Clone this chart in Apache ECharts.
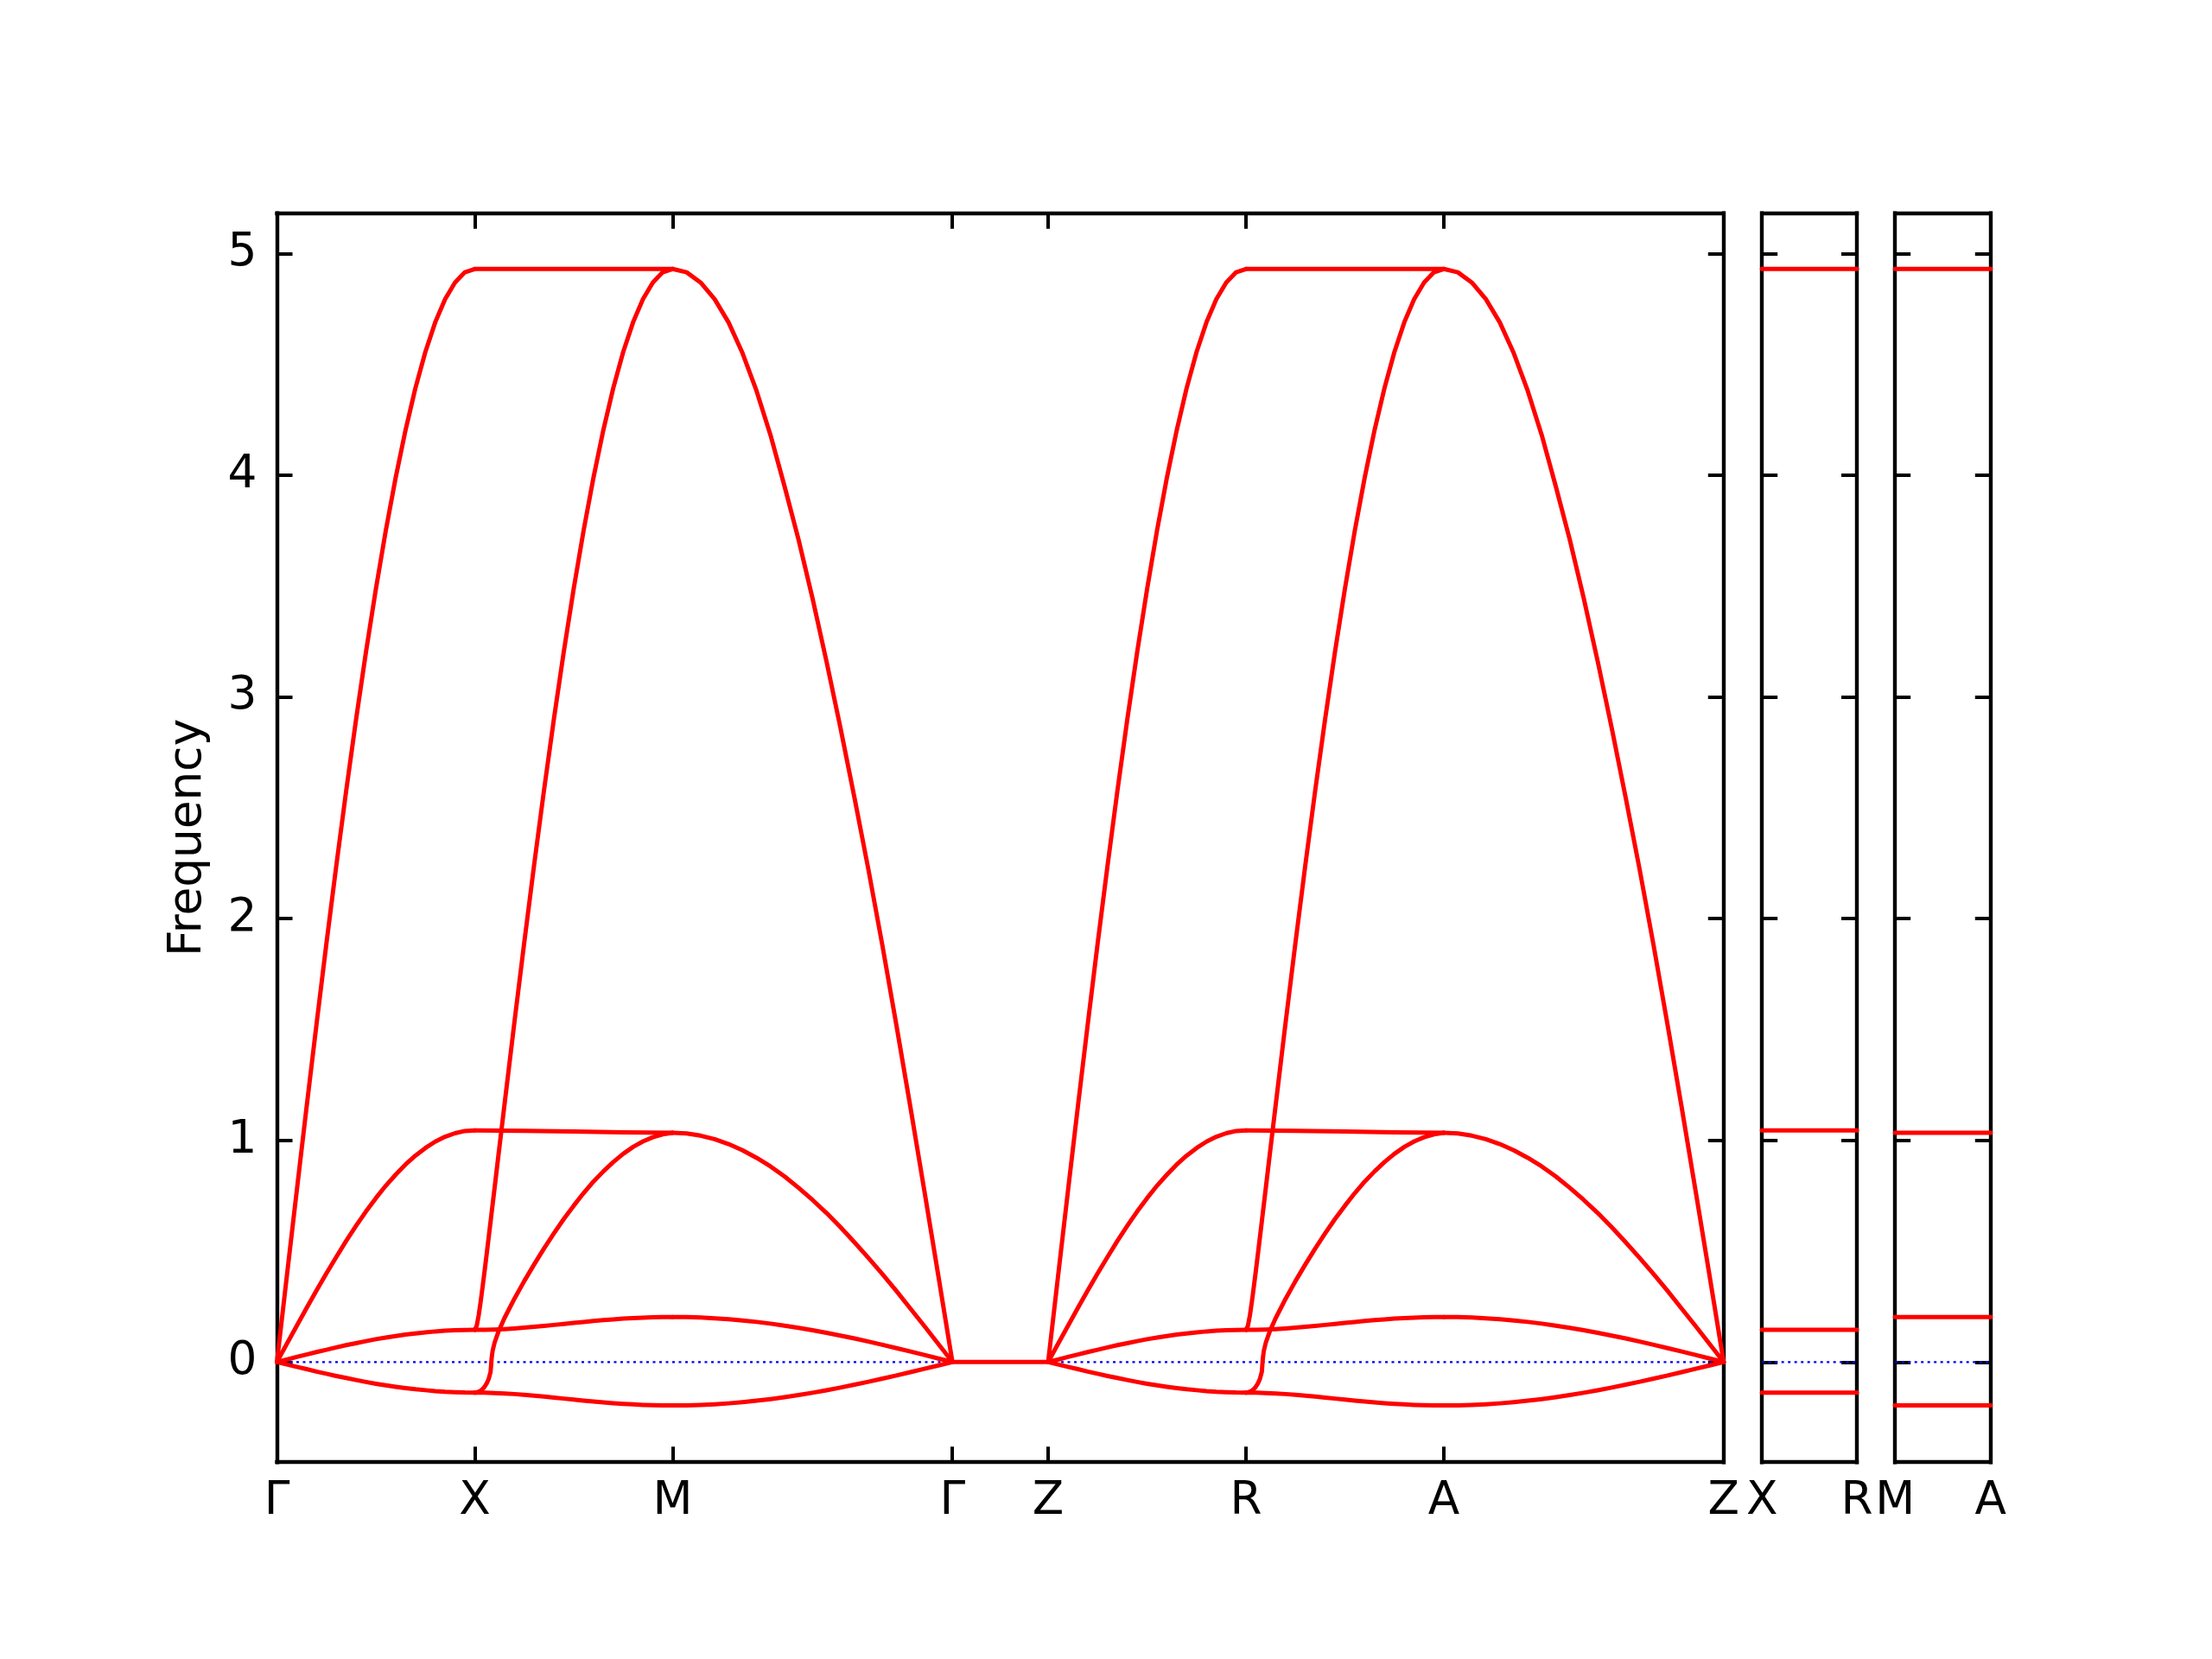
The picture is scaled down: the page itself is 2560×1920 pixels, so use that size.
<!DOCTYPE html>
<html><head><meta charset="utf-8">
<script src="https://cdn.jsdelivr.net/npm/echarts@6/dist/echarts.min.js"></script>
<style>html,body{margin:0;padding:0;background:#fff}#c{width:2560px;height:1920px}</style>
</head><body><div id="c"></div>
<script>
// ---------- k-path ----------
const kLabels = ['Γ','X','M','Γ','Z','R','A','Z'];
const segLengths = [0.5, 0.5, 0.70711, 0.242, 0.5, 0.5, 0.70711];
const panelXRLabels = ['X','R'];
const panelMALabels = ['M','A'];
const panelWidth = 0.242;
const yTicks = [0,1,2,3,4,5];
const yMin = -0.4517, yMax = 5.1816;

// ---------- sample fractions along a segment ----------
const tEdge = [0,1];
const tQuarter = [0,0.25,0.5,0.75,1];
const tGrid = [0,0.05,0.1,0.15,0.2,0.25,0.3,0.35,0.4,0.45,0.5,0.55,0.6,0.65,0.7,0.75,0.8,0.85,0.9,0.95,1];
const tSteep = [0,0.01,0.02,0.03,0.04,0.05,0.06,0.07,0.08,0.085,0.09,0.1,0.12,0.15,0.2,0.25,0.3,0.35,0.4,0.45,0.5,0.55,0.6,0.65,0.7,0.75,0.8,0.85,0.9,0.95,1];

// ---------- Γ–X (same along Z–R) ----------
const gxTop    = [0,0.387,0.771,1.151,1.523,1.887,2.238,2.576,2.898,3.202,3.486,3.749,3.988,4.203,4.393,4.555,4.689,4.794,4.869,4.915,4.93];
const gxMid    = [0,0.082,0.163,0.244,0.323,0.400,0.474,0.546,0.614,0.679,0.739,0.795,0.845,0.891,0.931,0.965,0.994,1.016,1.032,1.042,1.045];
const gxLowPos = [0,0.011,0.023,0.034,0.045,0.055,0.066,0.076,0.085,0.094,0.103,0.110,0.117,0.124,0.129,0.134,0.138,0.141,0.143,0.1446,0.145];
const gxLowNeg = [0,-0.011,-0.022,-0.032,-0.043,-0.053,-0.063,-0.072,-0.081,-0.090,-0.098,-0.105,-0.112,-0.118,-0.123,-0.127,-0.131,-0.134,-0.136,-0.1376,-0.138];

// ---------- X–M (same along R–A) ----------
const xmTopFlat = [4.93,4.93];
const xmMidFlat = [1.045,1.043,1.040,1.036,1.034];
const xmRiseTop = [0.145,0.164,0.212,0.274,0.342,0.413,0.486,0.560,0.634,0.672,0.709,0.784,0.935,1.159,1.530,1.891,2.242,2.579,2.900,3.204,3.488,3.750,3.989,4.204,4.393,4.555,4.689,4.794,4.869,4.915,4.93];
const xmRiseMid = [-0.138,-0.137,-0.134,-0.129,-0.1215,-0.111,-0.097,-0.077,-0.044,0.015,0.05,0.087,0.138,0.198,0.285,0.365,0.44,0.512,0.58,0.645,0.705,0.762,0.814,0.86,0.902,0.939,0.97,0.995,1.014,1.027,1.034];
const xmLowPos = [0.145,0.1454,0.1467,0.1487,0.1515,0.1549,0.1587,0.1629,0.1673,0.1719,0.1764,0.1808,0.1850,0.1889,0.1925,0.1956,0.1982,0.2003,0.2018,0.2027,0.203];
const xmLowNeg = [-0.138,-0.1384,-0.1397,-0.1418,-0.1445,-0.1479,-0.1518,-0.156,-0.1604,-0.165,-0.1695,-0.1739,-0.1781,-0.182,-0.1855,-0.1886,-0.1912,-0.1933,-0.1948,-0.1957,-0.196];

// ---------- M–Γ (same along A–Z) ----------
const mgTop    = [4.93,4.915,4.869,4.794,4.689,4.55,4.38,4.18,3.95,3.71,3.445,3.16,2.86,2.545,2.22,1.877,1.518,1.149,0.77,0.387,0];
const mgMid    = [1.034,1.031,1.021,1.005,0.983,0.955,0.921,0.882,0.837,0.786,0.731,0.672,0.608,0.540,0.469,0.396,0.320,0.241,0.162,0.081,0];
const mgLowPos = [0.203,0.2024,0.2005,0.1974,0.1931,0.1875,0.1809,0.1731,0.1642,0.1544,0.1435,0.1318,0.1193,0.1061,0.0922,0.0777,0.0627,0.0474,0.0318,0.0159,0];
const mgLowNeg = [-0.196,-0.1954,-0.1936,-0.1906,-0.1864,-0.1811,-0.1746,-0.1671,-0.1586,-0.149,-0.1386,-0.1273,-0.1152,-0.1024,-0.089,-0.075,-0.0606,-0.0458,-0.0307,-0.0154,0];

// ---------- Γ–Z ----------
const gzFlat = [0,0];

// ---------- side panels (X–R and M–A) ----------
const xrLevels = [4.93,1.045,0.145,-0.138];
const maLevels = [4.93,1.034,0.203,-0.196];

// ---------- assemble ----------
const segGX = [[tGrid,gxTop],[tGrid,gxMid],[tGrid,gxLowPos],[tGrid,gxLowNeg]];
const segXM = [[tEdge,xmTopFlat],[tQuarter,xmMidFlat],[tSteep,xmRiseTop],[tSteep,xmRiseMid],[tGrid,xmLowPos],[tGrid,xmLowNeg]];
const segMG = [[tGrid,mgTop],[tGrid,mgMid],[tGrid,mgLowPos],[tGrid,mgLowNeg]];
const segGZ = [[tEdge,gzFlat]];
const path = [segGX, segXM, segMG, segGZ, segGX, segXM, segMG];

const kPos = [0];
segLengths.forEach((L,i)=>kPos.push(kPos[i]+L));
const xMaxMain = kPos[kPos.length-1];

const FONT = 'DejaVu Sans';
const FS = 53.3;
const RED = '#ff0000';
const AXW = 4.4;
const LW = 5;

function axisLineStyle(){ return {show:true,onZero:false,lineStyle:{color:'#000',width:AXW,cap:'square'}}; }
function tickStyle(vals){ return vals ? {show:true,inside:true,length:18,customValues:vals,lineStyle:{color:'#000',width:4}} : {show:false}; }

const series = [];
function blueZero(xi, yi, xmax){
  series.push({type:'line',xAxisIndex:xi,yAxisIndex:yi,data:[[0,0],[xmax,0]],symbol:'none',silent:true,z:1,
    lineStyle:{color:'#0000ff',width:2.2,type:[3,4.5]}});
}
function redLine(xi, yi, data){
  series.push({type:'line',xAxisIndex:xi,yAxisIndex:yi,data:data,symbol:'none',silent:true,z:3,
    lineStyle:{color:RED,width:LW,cap:'round',join:'round'}});
}
blueZero(0,0,xMaxMain);
path.forEach((seg,i)=>{
  seg.forEach(([ts,vals])=>{
    redLine(0,0, ts.map((t,j)=>[kPos[i]+t*segLengths[i], vals[j]]));
  });
});
blueZero(2,2,panelWidth);
xrLevels.forEach(v=>redLine(2,2,[[0,v],[panelWidth,v]]));
blueZero(4,4,panelWidth);
maLevels.forEach(v=>redLine(4,4,[[0,v],[panelWidth,v]]));

function labelFor(list, positions){
  return function(v){
    for(let i=0;i<positions.length;i++){ if(Math.abs(positions[i]-v)<1e-6) return list[i]; }
    return '';
  };
}
const lblStyle = {fontFamily:FONT,fontSize:FS,color:'#000'};

const gTop = 246.7, gH = 1445.5;
const grids = [
  {left:320.5, top:gTop, width:1674.3, height:gH},
  {left:2039.2, top:gTop, width:109.8, height:gH},
  {left:2193.2, top:gTop, width:110.6, height:gH}
];

const xAxes = [], yAxes = [];
xAxes.push({type:'value',gridIndex:0,position:'bottom',min:0,max:xMaxMain,axisLine:axisLineStyle(),axisTick:tickStyle(kPos),splitLine:{show:false},
  axisLabel:Object.assign({show:true,customValues:kPos,margin:19,formatter:labelFor(kLabels,kPos)},lblStyle)});
xAxes.push({type:'value',gridIndex:0,position:'top',min:0,max:xMaxMain,axisLine:axisLineStyle(),axisTick:tickStyle(kPos),splitLine:{show:false},axisLabel:{show:false}});
[[panelXRLabels,1],[panelMALabels,2]].forEach(([labs,g])=>{
  const pv=[0,panelWidth];
  xAxes.push({type:'value',gridIndex:g,position:'bottom',min:0,max:panelWidth,axisLine:axisLineStyle(),axisTick:{show:false},splitLine:{show:false},
    axisLabel:Object.assign({show:true,customValues:pv,margin:19,formatter:labelFor(labs,pv)},lblStyle)});
  xAxes.push({type:'value',gridIndex:g,position:'top',min:0,max:panelWidth,axisLine:axisLineStyle(),axisTick:{show:false},splitLine:{show:false},axisLabel:{show:false}});
});
[0,1,2].forEach(g=>{
  const left = {type:'value',gridIndex:g,position:'left',min:yMin,max:yMax,axisLine:axisLineStyle(),axisTick:tickStyle(yTicks),splitLine:{show:false},axisLabel:{show:false}};
  if(g===0){
    left.axisLabel = Object.assign({show:true,customValues:yTicks,margin:23,formatter:v=>String(Math.round(v))},lblStyle);
    left.name = 'Frequency';
    left.nameLocation = 'middle';
    left.nameRotate = 90;
    left.nameGap = 76;
    left.nameTextStyle = {fontFamily:FONT,fontSize:FS,color:'#000'};
  }
  yAxes.push(left);
  yAxes.push({type:'value',gridIndex:g,position:'right',min:yMin,max:yMax,axisLine:axisLineStyle(),axisTick:tickStyle(yTicks),splitLine:{show:false},axisLabel:{show:false}});
});

const chart = echarts.init(document.getElementById('c'),null,{renderer:'canvas',width:2560,height:1920});
chart.setOption({
  animation:false,
  backgroundColor:'#ffffff',
  grid:grids,
  xAxis:xAxes,
  yAxis:yAxes,
  series:series
});
</script></body></html>
